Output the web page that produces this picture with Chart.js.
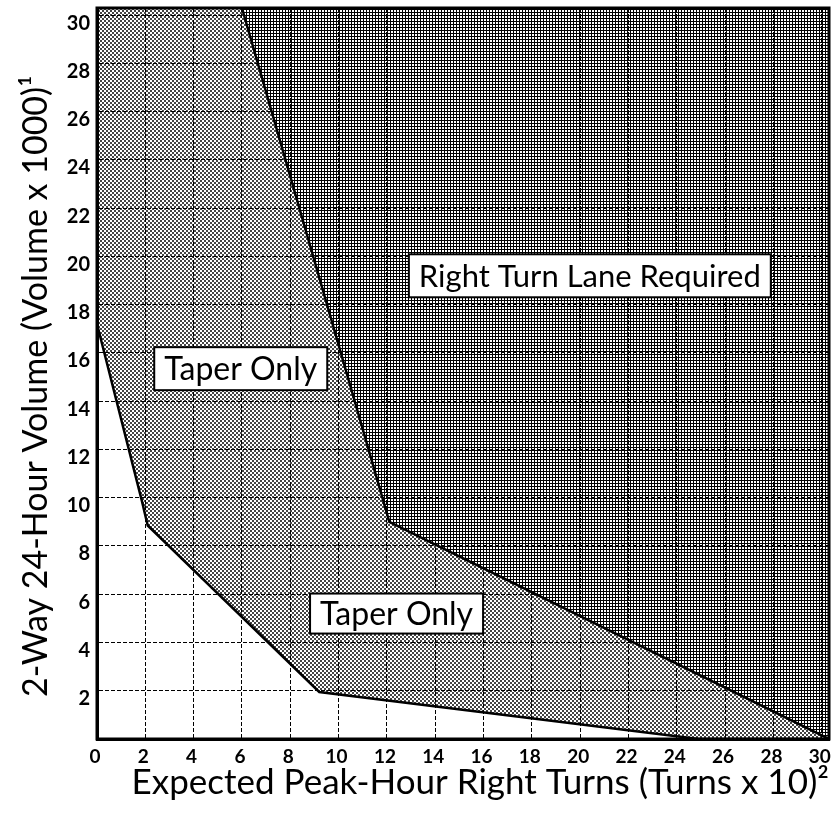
<!DOCTYPE html>
<html>
<head>
<meta charset="utf-8">
<title>Right Turn Lane Warrant</title>
<script src="https://cdn.jsdelivr.net/npm/chart.js@4.4.1/dist/chart.umd.min.js"></script>
<style>
    html, body { margin: 0; padding: 0; background: #fff; }
    #wrap { position: relative; width: 833px; height: 820px; }
</style>
</head>
<body>
<div id="wrap"><canvas id="warrant-chart"></canvas></div>
<script>
// Boundary between "Taper Only" and "Right Turn Lane Required"
const laneTurns  = [6.0, 12.1, 30.3];
const laneVolume = [30.3, 9.0, 0];

// Boundary below which no taper is needed
const taperTurns  = [0, 1.85, 2.1, 9.2, 24.9, 30.3];
const taperVolume = [17.2, 9.9, 8.85, 1.95, 0, 0];

// Axis ticks
const turnTicks   = [0, 2, 4, 6, 8, 10, 12, 14, 16, 18, 20, 22, 24, 26, 28, 30];
const volumeTicks = [2, 4, 6, 8, 10, 12, 14, 16, 18, 20, 22, 24, 26, 28, 30];

// Region captions
const regionNames  = ['Right Turn Lane Required', 'Taper Only', 'Taper Only'];
const regionTurns  = [20.4, 5.95, 12.4];
const regionVolume = [19.2, 15.35, 5.2];

const FONT = 'Lato, "Noto Sans", sans-serif';

// halftone screens used for the shaded zones
function makeScreen(size, paint) {
    const c = document.createElement('canvas');
    c.width = size;
    c.height = size;
    const g = c.getContext('2d');
    g.fillStyle = '#fff';
    g.fillRect(0, 0, size, size);
    paint(g);
    return document.getElementById('warrant-chart').getContext('2d').createPattern(c, 'repeat');
}

const lightScreen = makeScreen(4, g => {
    g.fillStyle = '#444';
    g.fillRect(0, 0, 2, 2);
    g.fillRect(2, 2, 2, 2);
});

const darkScreen = makeScreen(3, g => {
    g.fillStyle = '#000';
    g.fillRect(0, 0, 3, 1);
    g.fillRect(0, 0, 1, 3);
});

const toPoints = (xs, ys) => xs.map((x, i) => ({ x: x, y: ys[i] }));

// outer frame on top and right, axis borders cover the other two sides
const framePlugin = {
    id: 'frame',
    afterDraw(chart) {
        const { ctx, chartArea: a } = chart;
        ctx.save();
        ctx.strokeStyle = '#000';
        ctx.lineWidth = 3;
        ctx.strokeRect(a.left, a.top, a.right - a.left, a.bottom - a.top);
        ctx.restore();
    }
};

// boxed captions placed in data coordinates
const captionPlugin = {
    id: 'captions',
    afterDraw(chart) {
        const { ctx, scales } = chart;
        const sizes = [31, 32, 32];
        const heights = [43, 43, 40];
        ctx.save();
        regionNames.forEach((name, i) => {
            const cx = scales.x.getPixelForValue(regionTurns[i]);
            const cy = scales.y.getPixelForValue(regionVolume[i]);
            ctx.font = sizes[i] + 'px ' + FONT;
            const w = ctx.measureText(name).width + 20;
            const h = heights[i];
            ctx.fillStyle = '#fff';
            ctx.fillRect(cx - w / 2, cy - h / 2, w, h);
            ctx.strokeStyle = '#000';
            ctx.lineWidth = 2;
            ctx.strokeRect(cx - w / 2, cy - h / 2, w, h);
            ctx.fillStyle = '#000';
            ctx.textAlign = 'center';
            ctx.textBaseline = 'middle';
            ctx.fillText(name, cx, cy + 1);
        });
        ctx.restore();
    }
};

const chart = new Chart(document.getElementById('warrant-chart'), {
    type: 'line',
    data: {
        datasets: [
            {
                label: 'Right Turn Lane Required',
                data: toPoints(laneTurns, laneVolume),
                borderColor: '#000',
                borderWidth: 2.5,
                backgroundColor: darkScreen,
                fill: 'end',
                pointRadius: 0,
                tension: 0
            },
            {
                label: 'Taper Only',
                data: toPoints(taperTurns, taperVolume),
                borderColor: '#000',
                borderWidth: 2.5,
                backgroundColor: lightScreen,
                fill: 'end',
                pointRadius: 0,
                tension: 0
            }
        ]
    },
    options: {
        responsive: true,
        maintainAspectRatio: false,
        animation: false,
        layout: { padding: { top: 8, right: 4, left: 0, bottom: 0 } },
        plugins: {
            legend: { display: false },
            tooltip: { enabled: false }
        },
        scales: {
            x: {
                type: 'linear',
                min: 0,
                max: 30.3,
                afterBuildTicks: s => { s.ticks = turnTicks.map(v => ({ value: v })); },
                afterFit: s => { s.height = 81; s.paddingLeft = 0; s.paddingRight = 0; },
                grid: { color: '#000', lineWidth: 1, drawTicks: false, z: 1 },
                border: { color: '#000', width: 3, dash: [4, 2], z: 1 },
                ticks: {
                    padding: 6,
                    labelOffset: -2,
                    color: '#000',
                    maxRotation: 0,
                    autoSkip: false,
                    font: { family: FONT, size: 19, weight: 'bold' }
                },
                title: {
                    display: true,
                    text: 'Expected Peak-Hour Right Turns (Turns x 10)\u00b2',
                    align: 'end',
                    color: '#000',
                    font: { family: FONT, size: 35 },
                    padding: { top: 0, bottom: 16 }
                }
            },
            y: {
                type: 'linear',
                min: 0,
                max: 30.3,
                afterBuildTicks: s => { s.ticks = volumeTicks.map(v => ({ value: v })); },
                afterFit: s => { s.width = 97; s.paddingTop = 0; s.paddingBottom = 0; },
                grid: { color: '#000', lineWidth: 1, drawTicks: false, z: 1 },
                border: { color: '#000', width: 3, dash: [4, 2], z: 1 },
                ticks: {
                    padding: 7,
                    labelOffset: 8,
                    color: '#000',
                    autoSkip: false,
                    font: { family: FONT, size: 20, weight: 'bold' }
                },
                title: {
                    display: true,
                    text: '2-Way 24-Hour Volume (Volume x 1000)\u00b9\u2003',
                    color: '#000',
                    font: { family: FONT, size: 34 },
                    padding: { top: 16, bottom: 0 }
                }
            }
        }
    },
    plugins: [framePlugin, captionPlugin]
});
</script>
</body>
</html>
